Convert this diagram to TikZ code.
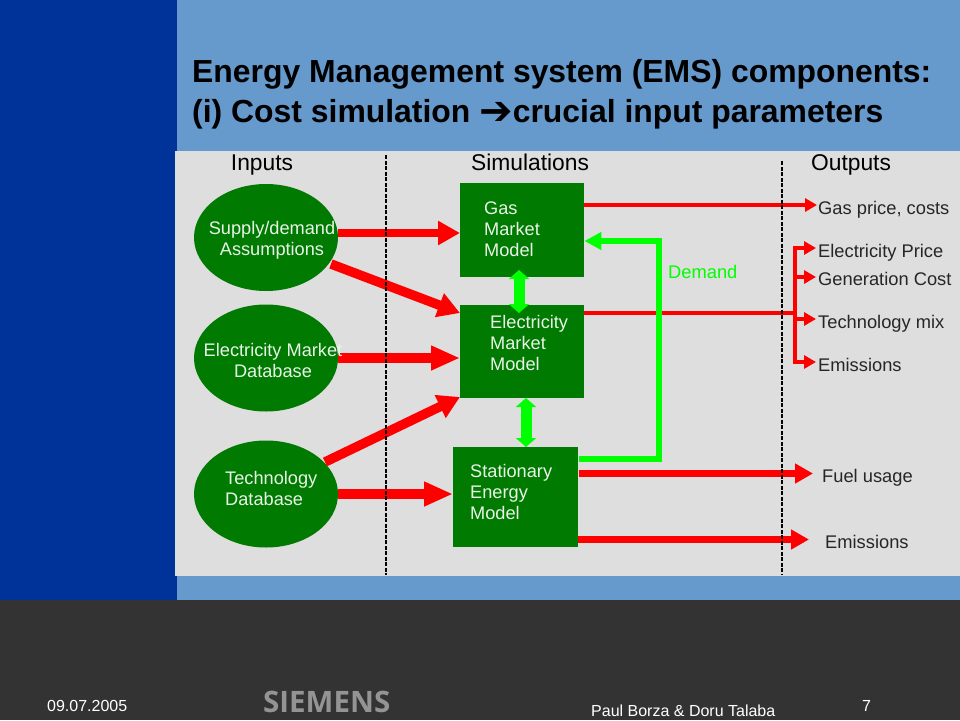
\documentclass[tikz,border=0pt]{standalone}
\usepackage{fontspec}
\setmainfont{Liberation Sans}
\newfontfamily\symfont{DejaVu Sans}
\newfontfamily\logofont{Open Sans}
\usetikzlibrary{arrows.meta,calc,shapes.geometric}
\definecolor{darkblue}{HTML}{003399}
\definecolor{midblue}{HTML}{6699CC}
\definecolor{panel}{HTML}{DEDEDE}
\definecolor{footer}{HTML}{333333}
\definecolor{boxgreen}{HTML}{007A00}
\definecolor{lime}{HTML}{00FF00}
\definecolor{txtgreen}{HTML}{E8F5E8}
\tikzset{
  x=1pt,y=-1pt,
  inblob/.style={ellipse,fill=boxgreen,minimum width=144pt,minimum height=107pt,inner sep=0pt},
  modelbox/.style={rectangle,fill=boxgreen,inner sep=0pt,anchor=north west},
  intxt/.style={font=\fontsize{18.2}{21}\selectfont,text=txtgreen,align=center,inner sep=0pt},
  boxtxt/.style={font=\fontsize{18.2}{21}\selectfont,text=txtgreen,align=left,anchor=west,inner sep=0pt},
  head/.style={font=\fontsize{22.8}{26}\selectfont,text=black,inner sep=0pt,anchor=base},
  outtxt/.style={font=\fontsize{18.3}{22}\selectfont,text=black!85,anchor=base west,inner sep=0pt},
  foot/.style={font=\fontsize{16}{19}\selectfont,text=white,inner sep=0pt},
  bigred/.style={draw=red,line width=8pt,-{Triangle[length=22pt,width=23pt]}},
  slantred/.style={draw=red,line width=9.5pt,-{Triangle[length=22pt,width=24pt]}},
  fatred/.style={draw=red,line width=10pt,-{Triangle[length=29pt,width=23pt]}},
  thinred/.style={draw=red,line width=4.5pt,-{Triangle[length=12pt,width=13pt]}},
  plainred/.style={draw=red,line width=4pt},
  lowred/.style={draw=red,line width=7pt,-{Triangle[length=18pt,width=19pt]}},
  limedbl/.style={draw=lime,line width=11pt,{Triangle[length=9pt,width=20pt]}-{Triangle[length=9pt,width=20pt]}},
  limeone/.style={draw=lime,line width=6.5pt,line join=miter,-{Triangle[length=17pt,width=17pt]}},
  divider/.style={draw=black,line width=1.6pt,dash pattern=on 4pt off 1.5pt},
}
\begin{document}
\begin{tikzpicture}
\useasboundingbox (0,0) rectangle (960,720);
\fill[midblue] (0,0) rectangle (960,600);
\fill[darkblue] (0,0) rectangle (177,600);
\fill[footer] (0,600) rectangle (960,720);
\fill[panel] (175,151) rectangle (960,576);

\node[anchor=west,inner sep=0pt,align=left,font=\fontsize{31.9}{40}\selectfont\bfseries] (title) at (192,94)
 {Energy Management system (EMS) components:\\(i) Cost simulation {\symfont\fontsize{40}{40}\selectfont\raisebox{-2pt}{➔}}crucial input parameters};

\node[head] (hin) at (262,170) {Inputs};
\node[head] (hsim) at (530,170) {Simulations};
\node[head] (hout) at (851,170) {Outputs};

\node[inblob] (sd) at (266,237.5) {};
\node[inblob] (em) at (266,358) {};
\node[inblob] (td) at (266,494) {};
\node[modelbox,minimum width=124pt,minimum height=94pt] (gas) at (460,183) {};
\node[modelbox,minimum width=124pt,minimum height=93pt] (elec) at (460,305) {};
\node[modelbox,minimum width=125pt,minimum height=100pt] (stat) at (453,447) {};

% coordinates for connector ends
\coordinate (ya) at (0,233);
\coordinate (yb) at (0,313);
\coordinate (yc) at (0,358);
\coordinate (yd) at (0,397);
\coordinate (ye) at (0,494);
\coordinate (sdo) at (331,264);
\coordinate (tdo) at (325,462);

\draw[bigred] (sd.east |- ya) -- (gas.west |- ya);
\draw[slantred] (sdo) -- (elec.west |- yb);
\draw[fatred] (em.east |- yc) -- (elec.west |- yc);
\draw[slantred] (tdo) -- (elec.west |- yd);
\draw[fatred] (td.east |- ye) -- (stat.west |- ye);

\coordinate (o1) at (817,205);
\draw[thinred] (gas.east |- o1) -- (o1);
\coordinate (bus) at (795,313);
\draw[plainred] (elec.east |- bus) -- (bus);
\coordinate (o2) at (816,248); \coordinate (o3) at (816,277);
\coordinate (o4) at (816,319); \coordinate (o5) at (816,362);
\draw[thinred] (bus |- o3) -- (o3);
\draw[thinred] (bus |- o4) -- (o4);
\draw[thinred] (bus |- o5) -- (o5);
\draw[thinred] (bus |- o2) -- (o2);
\draw[draw=red,line width=4.5pt,line cap=rect] (bus |- o2) -- (bus |- o5);
\coordinate (o6) at (813,473.5); \coordinate (o7) at (809,539.5);
\draw[lowred] ([xshift=1pt]stat.east |- o6) -- (o6);
\draw[lowred] (stat.east |- o7) -- (o7);

\coordinate (d1t) at (385.7,155); \coordinate (d1b) at (385.7,575);
\coordinate (d2t) at (781.7,161); \coordinate (d2b) at (781.7,575);
\draw[divider] (d1t) -- (d1b);
\draw[divider] (d2t) -- (d2b);

\coordinate (gt) at (519,270); \coordinate (gb) at (519,313);
\draw[limedbl] (gt) -- (gb);
\coordinate (st) at (526,398); \coordinate (sb) at (526,447);
\draw[limedbl] (st) -- (sb);
\coordinate (dc1) at (659,459); \coordinate (dc2) at (659,241);
\draw[limeone] ([xshift=1pt]stat.east |- dc1) -- (dc1) -- (dc2) -- (gas.east |- dc2);
\node[font=\fontsize{18.3}{22}\selectfont,text=lime,anchor=west,inner sep=0pt] (dem) at (668,272) {Demand};

\node[intxt] (t1) at (272,240) {Supply/demand\\Assumptions};
\node[intxt] (t2) at (273,360) {Electricity Market\\Database};
\node[intxt,align=left,anchor=west] (t3) at (225,488.5) {Technology\\Database};
\node[boxtxt] (t4) at (484,229) {Gas\\Market\\Model};
\node[boxtxt] (t5) at (490,343) {Electricity\\Market\\Model};
\node[boxtxt] (t6) at (470,492) {Stationary\\Energy\\Model};

\node[outtxt] (r1) at (818,214.5) {Gas price, costs};
\node[outtxt] (r2) at (818,257) {Electricity Price};
\node[outtxt] (r3) at (818,285.5) {Generation Cost};
\node[outtxt] (r4) at (818,328) {Technology mix};
\node[outtxt] (r5) at (818,371) {Emissions};
\node[outtxt] (r6) at (822,482.5) {Fuel usage};
\node[outtxt] (r7) at (825,548) {Emissions};

\node[foot,anchor=west] (f1) at (47,706) {09.07.2005};
\node[foot,anchor=west] (f2) at (591,711) {Paul Borza \& Doru Talaba};
\node[foot,anchor=west] (f3) at (862,706) {7};
\node[anchor=west,inner sep=0pt,text=black!42,font=\logofont\fontsize{29.5}{30}\selectfont\bfseries] (logo) at (263,702) {SIEMENS};
\end{tikzpicture}
\end{document}
